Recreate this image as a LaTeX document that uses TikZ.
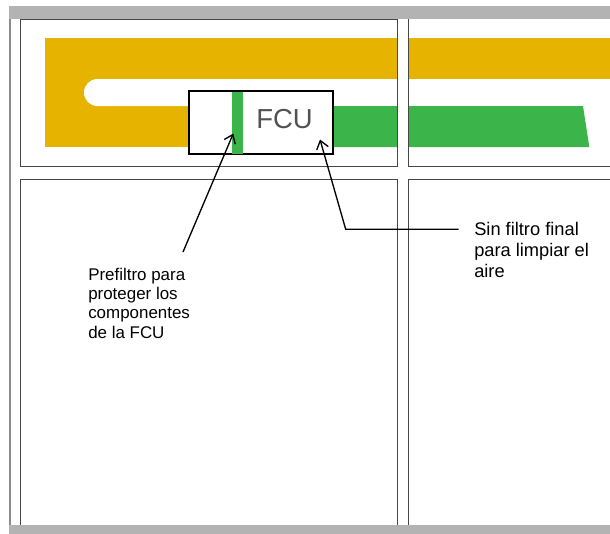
\documentclass[tikz,border=0pt]{standalone}
\usepackage{fontspec}
\setmainfont{Liberation Sans}
\usetikzlibrary{arrows.meta}
\definecolor{duct}{RGB}{230,180,0}
\definecolor{grn}{RGB}{59,181,74}
\definecolor{band}{RGB}{179,179,179}
\begin{document}
\begin{tikzpicture}[x=0.75pt,y=-0.75pt,
  wall/.style={draw=black!72,line width=0.75pt},
  lightwall/.style={draw=black!45,line width=0.9pt},
  fcubox/.style={draw=black,fill=white,line width=1.5pt,minimum width=108pt,minimum height=47.6pt,inner sep=0pt},
  fcutext/.style={text=black!68,font=\fontsize{20.6pt}{24pt}\selectfont,inner sep=0pt},
  note/.style={align=left,inner sep=0pt,anchor=north west,text=black},
  callout/.style={draw=black,line width=1pt,-{Straight Barb[length=6pt,width=9pt]}}]
\useasboundingbox (0,0) rectangle (610,533);
% ducts
\fill[duct] (45,38) rectangle (611,78.6);
\fill[duct] (45,78) rectangle (190,147);
\fill[white,rounded corners=10.1pt] (84,79) rectangle (260,106);
\fill[grn] (320,106) -- (583,106) -- (589.3,147) -- (320,147) -- cycle;
% wall gaps
\fill[white] (397.7,19) rectangle (408.3,525);
\fill[white] (20.3,166) rectangle (611,179.3);
% walls
\draw[lightwall] (10,19) -- (10,525);
\draw[wall] (20.3,19) rectangle (397.7,166);
\draw[wall] (20.3,179.3) rectangle (397.7,525);
\draw[wall] (408.3,19) -- (408.3,166) -- (612,166);
\draw[wall] (612,179.3) -- (408.3,179.3) -- (408.3,525);
% bands
\fill[band] (9.3,6) rectangle (611,19);
\fill[band] (9.3,525) rectangle (611,534);
% FCU
\node[fcubox] (fcu) at (260.5,122.75) {};
\fill[grn] (231.7,92) rectangle (242.5,153.5);
\node[fcutext] (lbl) at (284.5,119.5) {FCU};
% notes
\node[note,font=\fontsize{12.7pt}{14.5pt}\selectfont] (pre) at (88,267.7)
  {Prefiltro para\\proteger los\\componentes\\de la FCU};
\node[note,font=\fontsize{13.7pt}{15.9pt}\selectfont] (sin) at (474,221.6)
  {Sin filtro final\\para limpiar el\\aire};
% connectors
\coordinate (preA) at (183,252);
\coordinate (preT) at (233.3,133.5);
\coordinate (sinA) at (458.5,229.3);
\coordinate (sinB) at (345.7,229.3);
\coordinate (sinT) at (320,139.5);
\draw[callout] (preA) -- (preT);
\draw[callout] (sinA) -- (sinB) -- (sinT);
\end{tikzpicture}
\end{document}
